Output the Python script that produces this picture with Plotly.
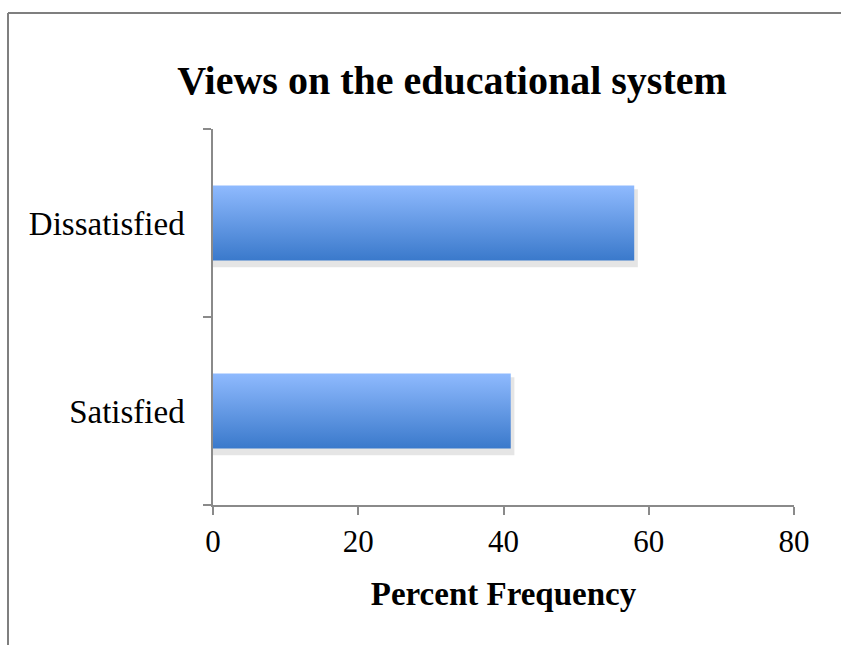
import plotly.graph_objects as go

categories = ["Satisfied", "Dissatisfied"]
values = [41, 58]
x_ticks = [0, 20, 40, 60, 80]

title_text = "Views on the educational system"
x_title = "Percent Frequency"

bar_half = 0.2
top_color = "#8fbafe"
bottom_color = "#3a79cb"
axis_color = "#8a8a8a"
serif = "Liberation Serif, Times New Roman, serif"

fig = go.Figure()

for i, (cat, v) in enumerate(zip(categories, values)):
    # soft shadow
    fig.add_trace(go.Scatter(
        x=[0, v + 0.5, v + 0.5, 0, 0],
        y=[i - bar_half - 0.035, i - bar_half - 0.035, i + bar_half - 0.02, i + bar_half - 0.02, i - bar_half - 0.035],
        mode="lines", line=dict(width=0), fill="toself",
        fillcolor="rgba(0,0,0,0.10)", hoverinfo="skip", showlegend=False,
    ))
    fig.add_trace(go.Scatter(
        x=[0, v, v, 0, 0],
        y=[i - bar_half, i - bar_half, i + bar_half, i + bar_half, i - bar_half],
        mode="lines", line=dict(width=0), fill="toself",
        fillgradient=dict(type="vertical",
                          colorscale=[[0, bottom_color], [1, top_color]]),
        name=cat, showlegend=False,
    ))

fig.update_layout(
    width=841, height=645,
    margin=dict(l=213, r=47, t=129, b=140),
    paper_bgcolor="white", plot_bgcolor="white",
    title=dict(text="<b>" + title_text + "</b>", x=452 / 841, xanchor="center",
               y=1 - 80 / 645, yanchor="middle", yref="container",
               font=dict(family=serif, size=40, color="black")),
    xaxis=dict(range=[0, 80], tickvals=x_ticks, ticktext=[str(t) for t in x_ticks],
               showgrid=False, zeroline=False, showline=True, linecolor=axis_color,
               linewidth=1.5, ticks="outside", ticklen=8, tickcolor=axis_color,
               tickwidth=1.5, tickfont=dict(family=serif, size=31, color="black"),
               title=dict(text="<b>" + x_title + "</b>", standoff=24,
                          font=dict(family=serif, size=33, color="black"))),
    yaxis=dict(range=[-0.5, len(categories) - 0.5], tickvals=list(range(len(categories))),
               ticktext=categories, showgrid=False, zeroline=False, showline=True,
               linecolor=axis_color, linewidth=1.5, ticks="", ticklabelstandoff=20,
               tickfont=dict(family=serif, size=33, color="black"),
               minor=dict(tickvals=[k - 0.5 for k in range(len(categories) + 1)],
                          ticks="outside", ticklen=8, tickcolor=axis_color, tickwidth=1.5,
                          showgrid=False)),
    shapes=[
        dict(type="line", xref="paper", yref="paper",
             x0=(8 - 213) / 581, x1=(845 - 213) / 581,
             y0=(505 - 13) / 376, y1=(505 - 13) / 376,
             line=dict(color="#7f7f7f", width=2), layer="below"),
        dict(type="line", xref="paper", yref="paper",
             x0=(8 - 213) / 581, x1=(8 - 213) / 581,
             y0=(505 - 13) / 376, y1=(505 - 645) / 376,
             line=dict(color="#7f7f7f", width=2), layer="below"),
    ],
)

fig.write_html("out.html", config={"displayModeBar": False})
